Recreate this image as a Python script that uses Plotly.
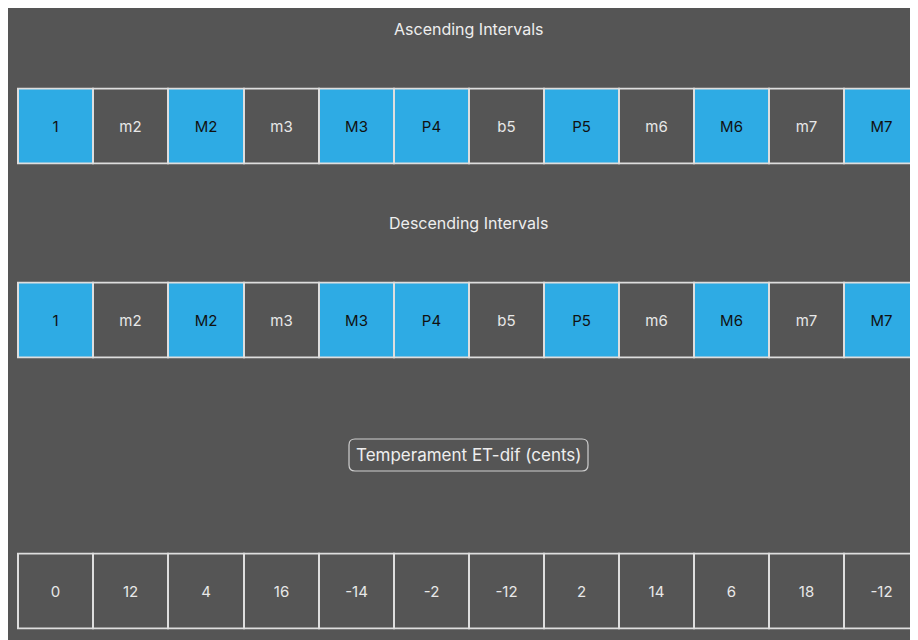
import plotly.graph_objects as go

# ---- data ----
ascending_labels = ["1", "m2", "M2", "m3", "M3", "P4", "b5", "P5", "m6", "M6", "m7", "M7"]
descending_labels = ["1", "m2", "M2", "m3", "M3", "P4", "b5", "P5", "m6", "M6", "m7", "M7"]
et_dif_cents = [0, 12, 4, 16, -14, -2, -12, 2, 14, 6, 18, -12]
ascending_highlight = [1, 0, 1, 0, 1, 1, 0, 1, 0, 1, 0, 1]
descending_highlight = [1, 0, 1, 0, 1, 1, 0, 1, 0, 1, 0, 1]
cents_highlight = [0] * 12

positions = list(range(12))

# ---- style ----
W, H = 918, 640
BG = "#555555"
BLUE = "#2eabe4"
BORDER = "#dedede"
FONT = "Inter, Roboto, Liberation Sans, sans-serif"
ML = 9
CELL = 75.1
LEFT = 10.2


def dom(top_px, bottom_px):
    return [1 - bottom_px / H, 1 - top_px / H]


fig = go.Figure()


def add_row(labels, flags, yaxis):
    fill = [BLUE if f else BG for f in flags]
    tcol = ["#111111" if f else "#e8e8e8" for f in flags]
    fig.add_trace(go.Bar(
        x=positions, y=[1] * len(labels), base=0, width=1,
        text=labels, textposition="inside", insidetextanchor="middle",
        textfont=dict(color=tcol, size=15, family=FONT),
        marker=dict(color=fill, line=dict(color=BORDER, width=2)),
        hoverinfo="skip", showlegend=False, yaxis=yaxis, xaxis="x",
        textangle=0, constraintext="none",
    ))


add_row(ascending_labels, ascending_highlight, "y")
add_row(descending_labels, descending_highlight, "y2")
add_row([str(v) for v in et_dif_cents], cents_highlight, "y3")

x0r = -0.5 - (LEFT - ML) / CELL
x1r = x0r + (W - ML) / CELL

yax = dict(range=[-0.015, 1.015], visible=False, fixedrange=True)
fig.update_layout(
    width=W, height=H,
    margin=dict(l=ML, r=0, t=0, b=0),
    paper_bgcolor=BG, plot_bgcolor=BG,
    bargap=0,
    xaxis=dict(range=[x0r, x1r], visible=False, fixedrange=True),
    yaxis=dict(domain=dom(79.5, 156.5), **yax),
    yaxis2=dict(domain=dom(273.5, 350.5), **yax),
    yaxis3=dict(domain=dom(544.5, 621.5), **yax),
    font=dict(family=FONT, color="#eeeeee"),
)

cx = 5.5
fig.add_annotation(text="Ascending Intervals", xref="x", x=cx, yref="paper",
                   y=1 - 21 / H, yanchor="middle", showarrow=False,
                   font=dict(size=16, color="#eeeeee"))
fig.add_annotation(text="Descending Intervals", xref="x", x=cx, yref="paper",
                   y=1 - 215 / H, yanchor="middle", showarrow=False,
                   font=dict(size=16, color="#eeeeee"))
fig.add_annotation(text="Temperament ET-dif (cents)", xref="x", x=cx, yref="paper",
                   y=1 - 447 / H, yanchor="middle", showarrow=False,
                   font=dict(size=17, color="#eeeeee"))

# rounded button outline (paper coords are relative to the plot area)
PW = W - ML
x0, x1 = (341 - ML) / PW, (580 - ML) / PW
y0, y1 = 1 - 463 / H, 1 - 431 / H
r = 6
rx, ry = r / PW, r / H
path = (f"M {x0+rx},{y0} L {x1-rx},{y0} Q {x1},{y0} {x1},{y0+ry} "
        f"L {x1},{y1-ry} Q {x1},{y1} {x1-rx},{y1} L {x0+rx},{y1} "
        f"Q {x0},{y1} {x0},{y1-ry} L {x0},{y0+ry} Q {x0},{y0} {x0+rx},{y0} Z")
fig.add_shape(type="path", path=path, xref="paper", yref="paper",
              line=dict(color="#cfcfcf", width=1.2))

fig.write_html("out.html", config={"displayModeBar": False})
